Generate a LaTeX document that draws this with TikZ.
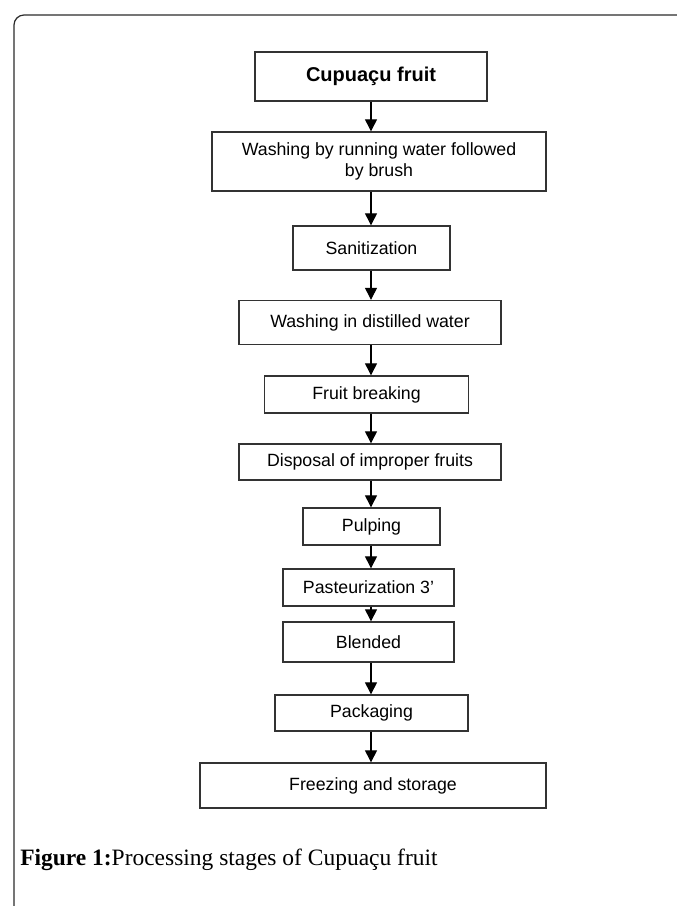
\documentclass[tikz,border=0pt]{standalone}
\usepackage{fontspec}
\setmainfont{Liberation Serif}
\setsansfont{Liberation Sans}
\usetikzlibrary{positioning, arrows.meta}
\definecolor{FrameGray}{HTML}{2B2B2B}
\definecolor{BoxBlack}{HTML}{333333}

\begin{document}
\begin{tikzpicture}[
    x=0.75pt, y=-0.75pt,
    stage/.style={draw=BoxBlack, line width=1pt, inner sep=0pt, align=center,
                  font=\sffamily\fontsize{13.3}{15.8}\selectfont},
    flow/.style={-{Triangle[length=9pt, width=9pt]}, line width=0.8pt}
]
  \useasboundingbox (0,0) rectangle (677,906);
  % page frame (open to the right and bottom)
  \draw[FrameGray, line width=0.9pt, rounded corners=7.5pt] (14,906) -- (14,15) -- (677,15);

  % Processing stages
  \node[stage, minimum width=174pt, minimum height=36.75pt, font=\sffamily\bfseries\fontsize{15}{18}\selectfont]
    (fruit) at (371,76.5) {Cupuaçu fruit};
  \node[stage, minimum width=250.5pt, minimum height=44.25pt] (wash) at (379,161.5)
    {Washing by running water followed\\by brush};
  \node[stage, minimum width=117.75pt, minimum height=33pt] (sanit) at (371.5,248) {Sanitization};
  \node[stage, minimum width=196.5pt, minimum height=33pt] (distil) at (370,322.5) {Washing in distilled water};
  \node[stage, minimum width=153pt, minimum height=27.75pt] (breaking) at (366.5,394.5) {Fruit breaking};
  \node[stage, minimum width=196.5pt, minimum height=27pt] (disposal) at (370,462) {Disposal of improper fruits};
  \node[stage, minimum width=102.75pt, minimum height=27.75pt] (pulping) at (371.5,526.5) {Pulping};
  \node[stage, minimum width=128.25pt, minimum height=27.75pt] (pasteur) at (368.5,587.5) {Pasteurization 3'};
  \node[stage, minimum width=128.25pt, minimum height=30pt] (blended) at (368.5,642) {Blended};
  \node[stage, minimum width=144.75pt, minimum height=27pt] (packaging) at (371.5,713) {Packaging};
  \node[stage, minimum width=259.5pt, minimum height=33.75pt] (freezing) at (373,785.5) {Freezing and storage};

  % Arrows down the middle
  \coordinate (spine) at (371,0);
  \foreach \a/\b in {fruit/wash, wash/sanit, sanit/distil, distil/breaking, breaking/disposal,
                     disposal/pulping, pulping/pasteur, pasteur/blended, blended/packaging, packaging/freezing}{
    \draw[flow] (\a.south -| spine) -- (\b.north -| spine);
  }

  % Caption
  \node[anchor=base west, inner sep=0pt, font=\fontsize{17.6}{21}\selectfont] (caption) at (20,865)
    {\textbf{Figure 1:}Processing stages of Cupuaçu fruit};
\end{tikzpicture}
\end{document}
